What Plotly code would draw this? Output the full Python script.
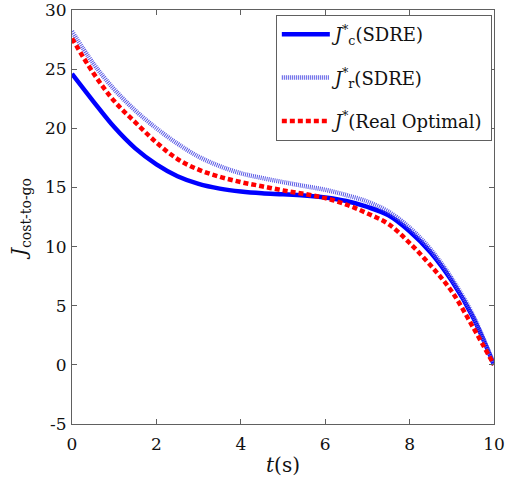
import plotly.graph_objects as go

# time grid (s)
t = [0, 0.5, 1, 1.5, 2, 2.5, 3, 3.5, 4, 4.5, 5, 5.5, 6, 6.5, 7, 7.5, 8, 8.5, 9, 9.5, 10]

# cost-to-go from the SDRE controller (computed)
j_c_sdre = [24.6, 22.3, 20.1, 18.3, 16.95, 15.95, 15.3, 14.9, 14.65, 14.5, 14.42,
            14.32, 14.15, 13.85, 13.35, 12.65, 11.3, 9.5, 7.1, 4.05, 0.0]
# cost-to-go from the SDRE controller (realized)
j_r_sdre = [28.2, 25.5, 23.3, 21.5, 20.0, 18.7, 17.6, 16.8, 16.2, 15.8, 15.45,
            15.12, 14.8, 14.35, 13.8, 12.95, 11.6, 9.75, 7.3, 4.2, 0.0]
# true optimal cost-to-go
j_opt = [27.6, 24.7, 22.3, 20.5, 18.8, 17.4, 16.5, 15.9, 15.45, 15.1, 14.75,
         14.45, 14.1, 13.55, 12.8, 11.9, 10.3, 8.4, 6.2, 3.2, 0.0]

x_ticks = [0, 2, 4, 6, 8, 10]
y_ticks = [-5, 0, 5, 10, 15, 20, 25, 30]
y_tick_text = ["-5", "0", "5", "10", "15", "20", "25", "30"]

FONT = "DejaVu Serif"
AX = "#606060"
TXT = "#111111"

fig = go.Figure()
fig.add_trace(go.Scatter(
    x=t, y=j_c_sdre, mode="lines", line_shape="spline",
    line=dict(color="#0000ff", width=4.5),
    name="<i>J</i><sup>*</sup><sub>c</sub>(SDRE)", legendgroup="a"))
fig.add_trace(go.Scatter(
    x=t, y=j_r_sdre, mode="lines", line_shape="spline",
    line=dict(color="#5a5ae6", width=4.5, dash="1px,1px"),
    name="<i>J</i><sup>*</sup><sub>r</sub>(SDRE)", legendgroup="b"))
fig.add_trace(go.Scatter(
    x=t, y=j_opt, mode="lines", line_shape="spline",
    line=dict(color="#ff0000", width=4.5, dash="5px,3px"),
    name="<i>J</i><sup>*</sup>(Real Optimal)", legendgroup="c"))

axis_common = dict(
    showline=True, linecolor=AX, linewidth=1, mirror="ticks",
    ticks="inside", ticklen=5, tickcolor=AX, automargin=False,
    showgrid=False, zeroline=False, ticklabeloverflow="allow",
    tickfont=dict(family=FONT, size=17, color=TXT),
)

fig.update_xaxes(range=[0, 10], tickvals=x_ticks, ticklabelstandoff=5, **axis_common,
                 title=dict(text="<i>t</i>(s)", font=dict(family=FONT, size=20, color=TXT),
                            standoff=4))
fig.update_yaxes(range=[-5, 30], tickvals=y_ticks, ticktext=y_tick_text,
                 ticklabelstandoff=1, **axis_common,
                 title=dict(text="<i>J</i><sub><span style='font-size:14px'>cost-to-go</span></sub>",
                            font=dict(family=FONT, size=20, color=TXT), standoff=12))

fig.update_layout(
    width=506, height=486,
    margin=dict(l=72, r=12, t=10, b=62),
    plot_bgcolor="white", paper_bgcolor="white",
    font=dict(family=FONT, color=TXT),
    legend=dict(
        x=0.483, y=0.988, xanchor="left", yanchor="top",
        bgcolor="white", bordercolor=AX, borderwidth=1,
        font=dict(family=FONT, size=18, color=TXT),
        itemwidth=48, tracegroupgap=17,
    ),
)

fig.write_html("out.html")
